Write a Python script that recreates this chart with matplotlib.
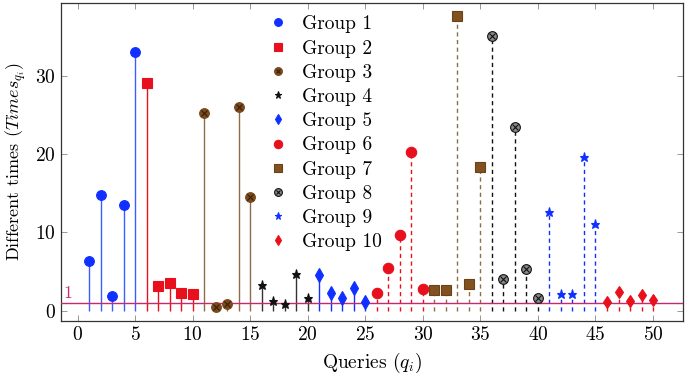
import numpy as np
import matplotlib as mpl
import matplotlib.pyplot as plt
from matplotlib.lines import Line2D

mpl.rcParams['font.family'] = ['cmr10', 'DejaVu Serif']
mpl.rcParams['mathtext.fontset'] = 'cm'
mpl.rcParams['axes.formatter.use_mathtext'] = True

# data, 5 queries per group
group_names = ['Group %d' % i for i in range(1, 11)]
g1 = [6.3, 14.8, 1.9, 13.5, 33.0]
g2 = [29.1, 3.2, 3.5, 2.3, 2.1]
g3 = [25.2, 0.5, 0.85, 26.0, 14.5]
g4 = [3.3, 1.3, 0.8, 4.7, 1.6]
g5 = [4.6, 2.2, 1.6, 2.9, 1.05]
g6 = [2.3, 5.4, 9.7, 20.3, 2.8]
g7 = [2.7, 2.6, 37.6, 3.4, 18.4]
g8 = [35.1, 4.1, 23.5, 5.3, 1.6]
g9 = [12.6, 2.1, 2.1, 19.6, 11.1]
g10 = [1.05, 2.4, 1.2, 1.95, 1.4]
groups = [g1, g2, g3, g4, g5, g6, g7, g8, g9, g10]
threshold = 1

BLUE = '#1030ff'
RED = '#e8101c'
BROWN = '#7a4a1c'
BROWN_LINE = '#8f6c48'
BLACK = '#111111'
LINE1 = '#c8286e'

# (marker, face, edge, size, stem colour, stem style, overlay x colour)
styles = [
  ('o', BLUE, BLUE, 7, '#3b5cff', '-', None),
  ('s', RED, RED, 6.5, RED, '-', None),
  ('o', BROWN, BROWN, 7, BROWN_LINE, '-', '#3a2008'),
  ('*', BLACK, BLACK, 6.5, '#333333', '-', None),
  ('d', BLUE, BLUE, 7, BLUE, '-', None),
  ('o', RED, RED, 7.5, RED, 'dash', None),
  ('s', '#82511f', '#6b4118', 7, BROWN_LINE, 'dash', None),
  ('o', '#8a8a8a', BLACK, 7, BLACK, 'dash', BLACK),
  ('*', BLUE, BLUE, 6.5, BLUE, 'dash', None),
  ('d', RED, RED, 6.5, RED, 'dash', None),
]

fig = plt.figure(figsize=(6.85, 3.74), dpi=100)
ax = fig.add_axes([0.089, 0.142, 0.908, 0.850])

handles = []
for i, vals in enumerate(groups):
  x = np.arange(1, 6) + 5 * i
  mk, fc, ec, ms, sc, ls, xo = styles[i]
  lstyle = (0, (3, 2.5)) if ls == 'dash' else '-'
  ax.vlines(x, 0, vals, colors=sc, linestyles=[lstyle], linewidth=1.0, zorder=2)
  ax.plot(x, vals, linestyle='none', marker=mk, markersize=ms,
          markerfacecolor=fc, markeredgecolor=ec, markeredgewidth=0.8, zorder=4)
  h = Line2D([], [], linestyle='none', marker=mk, markersize=ms * 0.8,
             markerfacecolor=fc, markeredgecolor=ec, markeredgewidth=0.8)
  if xo is not None:
    ax.plot(x, vals, linestyle='none', marker='x', markersize=ms * 0.55,
            color=xo, markeredgewidth=0.8, zorder=5)
    hx = Line2D([], [], linestyle='none', marker='x', markersize=ms * 0.45,
                color=xo, markeredgewidth=0.8)
    h = (h, hx)
  handles.append(h)

ax.axhline(threshold, color=LINE1, linewidth=1.0, zorder=3)
ax.text(-1.2, threshold + 0.3, '1', color=LINE1, fontsize=13, va='bottom', ha='left')

ax.set_xlim(-1.45, 52.6)
ax.set_ylim(-1.3, 39.3)
ax.set_xticks(range(0, 51, 5))
ax.set_yticks([0, 10, 20, 30])
ax.tick_params(direction='in', top=True, right=True, length=4, width=0.6,
               color='#888888', labelsize=14)
for s in ax.spines.values():
  s.set_linewidth(0.9)
  s.set_color('#333333')

ax.set_xlabel('Queries ($q_i$)', fontsize=14, labelpad=5)
ax.set_ylabel('Different times ($Times_{q_i}$)', fontsize=13, labelpad=5)

leg = ax.legend(handles, group_names, loc='upper left', bbox_to_anchor=(0.3145, 0.998),
                frameon=False, fontsize=14, labelspacing=0.32, handlelength=1.0,
                handletextpad=0.73, borderaxespad=0.2)

fig.savefig('out.png', dpi=100)
